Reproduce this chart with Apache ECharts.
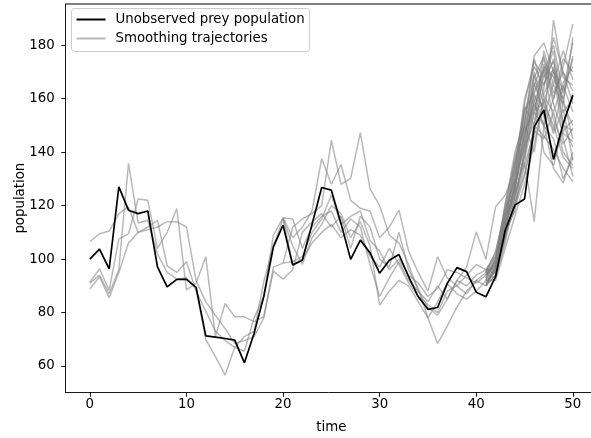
<!DOCTYPE html>
<html>
<head>
    <meta charset="UTF-8"/>
    <title>prey population</title>
    <script type="text/javascript" src="https://cdn.jsdelivr.net/npm/echarts@6/dist/echarts.min.js"></script>
    <style>
        html, body { margin: 0; padding: 0; background: #fff; }
        #chart { width: 591px; height: 438px; }
    </style>
</head>
<body>
<div id="chart"></div>
<script>
    // time steps 0..50
    var times = [];
    for (var i = 0; i <= 50; i++) times.push(i);

    var xTicks = [0, 10, 20, 30, 40, 50];
    var yTicks = [60, 80, 100, 120, 140, 160, 180];
    var xMin = -2.5, xMax = 52.5;
    var yMin = 50.16, yMax = 195.45;

    // the hidden (true) prey population
    var prey = [100, 103.7, 96.3, 127, 118.3, 117, 118, 97.1, 89.6, 92.4,
        92.4, 89.4, 71.3, 70.8, 70.3, 69.7, 61.2, 72.2, 85.9, 104.6,
        112.7, 97.8, 99.6, 113, 126.8, 125.8, 113.3, 99.9, 107.1, 102.4,
        94.7, 99.6, 101.7, 93.4, 85.9, 81.2, 81.9, 90.9, 96.8, 95.3,
        87.6, 85.9, 93.4, 110.8, 120.2, 122.5, 149.5, 155.8, 137.3, 150.7,
        161.3];

    // smoothing trajectories, early part (t = 0..20)
    var earlyStart = 0;
    var earlyPaths = [
        [106.5, 109.5, 110.5, 117, 119.5, 110, 111, 112, 114, 114, 112, 92, 84, 79, 74, 68.5, 69.5, 71, 78, 97, 98.5],
        [91.3, 96.4, 88.3, 107.5, 109.5, 122.5, 122, 104, 110, 118.9, 88.5, 91, 100.9, 71, 83.4, 78.4, 78.4, 76.6, 78.5, 95.5, 92.5],
        [88.8, 93.4, 85.5, 95, 106, 110, 112, 114.5, 97.5, 95, 99, 88, 80.5, 73, 69.5, 67, 65.5, 78, 86, 109, 115.5],
        [91, 94, 87, 96, 135.8, 113.5, 114.5, 102, 95, 92.5, 93, 89, 70, 63.5, 56.6, 67, 71, 73, 91.5, 105, 115]
    ];

    // middle part (t = 20..41)
    var midStart = 20;
    var midPaths = [
        [115.5, 108, 112, 118, 137.6, 128, 135.4, 122, 119, 118, 108, 112, 118.3, 103, 95, 88, 100.9, 93, 90, 94, 98, 96],
        [98.5, 112, 115, 117, 120, 144.5, 128, 130.2, 147.3, 126.4, 120, 109, 106, 98, 88, 84, 90, 85, 92, 97, 110.2, 100],
        [92.5, 96, 110, 114, 117, 112, 116, 104, 116, 112, 100, 97, 110, 96, 89, 78, 68.4, 75, 82, 88, 92, 90],
        [115, 105, 98, 108, 113, 120, 117, 108, 114, 105, 82.8, 88, 92, 90, 84, 78, 84, 91, 87, 85, 88, 92],
        [115.5, 115, 104, 112, 116, 118, 110, 115, 112, 98, 86, 93, 99, 92, 88, 82, 79, 85, 92, 90, 94, 96],
        [98.5, 99, 101, 110, 115, 124, 113, 116, 118, 107, 103, 96, 100, 94, 91, 86, 89, 96, 95, 93, 91, 94],
        [115, 98, 100, 106, 110, 113, 108, 111, 109, 101, 97, 104, 98, 91, 86, 83, 80, 88, 90, 87, 92, 95]
    ];

    // late part (t = 41..50)
    var lateStart = 41;
    var latePaths = [
        [96, 96, 112, 125, 150, 165, 175, 160, 172, 188],
        [90, 94, 108, 122, 140, 155, 150, 189.4, 168, 165],
        [90, 98, 118, 130, 145, 170, 158, 172, 150, 148],
        [94, 100, 115, 126, 157, 150, 178, 165, 158, 183],
        [96, 95, 110, 120, 135, 148, 145, 155, 140, 135],
        [92, 92, 104, 116, 128, 143, 160, 148, 165, 155],
        [95, 101, 120, 140, 152, 174, 168, 178, 155, 160],
        [92, 97, 112, 128, 138, 160, 140, 135, 150, 142],
        [90, 96, 110, 118, 142, 162, 170, 180, 162, 175],
        [94, 93, 106, 124, 136, 114, 150, 145, 130, 138],
        [96, 102, 119, 135, 150, 140, 162, 170, 145, 131],
        [94, 99, 116, 132, 147, 158, 150, 160, 175, 170],
        [95, 97, 113, 123, 139, 166, 155, 138, 148, 152],
        [90, 94, 108, 121, 132, 146, 172, 168, 160, 145],
        [92, 100, 117, 138, 155, 162, 150, 134, 128.5, 140],
        [94, 98, 114, 127, 144, 168, 176, 162, 170, 158],
        [95, 95, 110, 126, 148, 156, 158, 150, 138, 134],
        [100, 119.5, 124, 133, 160, 172, 165, 175, 150, 162],
        [93, 99, 121, 137, 150, 176, 181, 170, 160, 176],
        [91, 96, 112, 130, 156, 163, 171, 152, 143, 149],
        [95, 103, 118, 129, 142, 151, 164, 183, 170, 163],
        [92, 95, 109, 119, 131, 150, 146, 141, 134, 129],
        [96, 101, 115, 134, 158, 175, 161, 155, 166, 172],
        [94, 98, 111, 128, 146, 159, 168, 174, 158, 150],
        [90, 97, 114, 125, 137, 155, 173, 158, 147, 144],
        [93, 100, 116, 131, 152, 169, 153, 166, 178, 167],
        [95, 99, 112, 136, 149, 161, 157, 147, 156, 137],
        [91, 96, 113, 127, 143, 157, 166, 171, 163, 181]
    ];

    var greyLine = 'rgba(128,128,128,0.55)';
    var series = [];

    function addPaths(paths, start) {
        paths.forEach(function (p) {
            series.push({
                name: 'Smoothing trajectories',
                type: 'line',
                symbol: 'none',
                silent: true,
                lineStyle: { color: greyLine, width: 1.5 },
                itemStyle: { color: greyLine },
                data: p.map(function (v, k) { return [times[start + k], v]; })
            });
        });
    }
    addPaths(earlyPaths, earlyStart);
    addPaths(midPaths, midStart);
    addPaths(latePaths, lateStart);

    series.push({
        name: 'Unobserved prey population',
        type: 'line',
        symbol: 'none',
        z: 5,
        lineStyle: { color: '#000', width: 1.7 },
        itemStyle: { color: '#000' },
        data: prey.map(function (v, k) { return [times[k], v]; })
    });

    var font = 'DejaVu Sans';
    var fs = 13.33;
    var chart = echarts.init(document.getElementById('chart'));
    chart.setOption({
        animation: false,
        backgroundColor: '#fff',
        textStyle: { fontFamily: font },
        // right edge of the axes box lies just past the canvas, like the cropped figure
        grid: {
            left: 65.7, right: -6, top: 4, bottom: 45.7,
            containLabel: false, outerBoundsMode: 'none'
        },
        legend: {
            data: ['Unobserved prey population', 'Smoothing trajectories'],
            orient: 'vertical',
            left: 71.5, top: 8.5,
            padding: [4, 5, 6, 5],
            itemGap: 5,
            itemWidth: 29,
            itemHeight: 2,
            icon: 'rect',
            backgroundColor: 'rgba(255,255,255,0.8)',
            borderColor: '#cccccc',
            borderWidth: 1,
            borderRadius: 3,
            textStyle: { fontFamily: font, fontSize: fs, lineHeight: 14, color: '#000', padding: [0, 0, 0, 5] }
        },
        xAxis: {
            type: 'value',
            min: xMin, max: xMax,
            name: 'time',
            nameLocation: 'middle',
            nameGap: 29,
            nameMoveOverlap: false,
            nameTextStyle: { fontFamily: font, fontSize: fs, color: '#000' },
            axisLine: { onZero: false, lineStyle: { color: '#000', width: 0.9 } },
            axisTick: { customValues: xTicks, length: 4.5, lineStyle: { color: '#000', width: 0.9 } },
            axisLabel: { customValues: xTicks, margin: 6, fontSize: fs, color: '#000', fontFamily: font },
            splitLine: { show: false }
        },
        yAxis: {
            type: 'value',
            min: yMin, max: yMax,
            name: 'population',
            nameLocation: 'middle',
            nameGap: 39,
            nameMoveOverlap: false,
            nameTextStyle: { fontFamily: font, fontSize: fs, color: '#000' },
            axisLine: { show: true, onZero: false, lineStyle: { color: '#000', width: 0.9 } },
            axisTick: { show: true, customValues: yTicks, length: 4.5, lineStyle: { color: '#000', width: 0.9 } },
            axisLabel: { customValues: yTicks, margin: 11, fontSize: fs, color: '#000', fontFamily: font },
            splitLine: { show: false }
        },
        series: series
    });

    // top spine, placed from the axis scales
    var a = chart.convertToPixel({ gridIndex: 0 }, [xMin, yMax]);
    var b = chart.convertToPixel({ gridIndex: 0 }, [xMax, yMax]);
    chart.setOption({
        graphic: [{
            type: 'line',
            z: 100,
            silent: true,
            shape: { x1: a[0], y1: a[1], x2: b[0], y2: b[1] },
            style: { stroke: '#000', lineWidth: 1 }
        }]
    });
</script>
</body>
</html>
